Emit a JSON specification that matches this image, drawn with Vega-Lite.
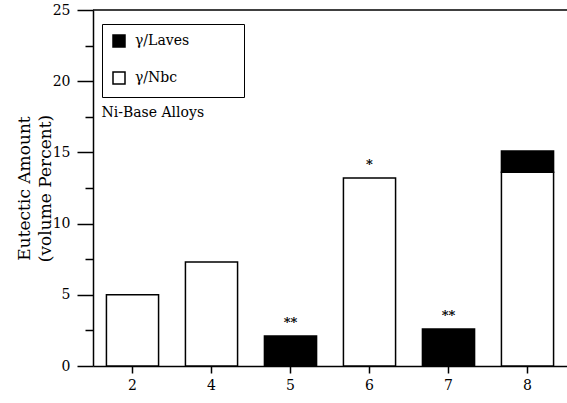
{
  "$schema": "https://vega.github.io/schema/vega-lite/v6.json",
  "width": 474,
  "height": 356,
  "autosize": {"type": "none"},
  "padding": {"left": 93, "top": 10, "right": 0, "bottom": 37},
  "background": "white",
  "config": {
    "view": {"stroke": null},
    "font": "DejaVu Serif",
    "legend": {"strokeColor": "black"},
    "axis": {
      "labelFont": "DejaVu Serif",
      "titleFont": "DejaVu Serif",
      "labelColor": "black",
      "titleColor": "black",
      "domainColor": "black",
      "tickColor": "black",
      "domainWidth": 1.5,
      "tickWidth": 1.5,
      "grid": false,
      "labelFontSize": 14,
      "titleFontWeight": "normal"
    }
  },
  "datasets": {
    "bars": [
      {"alloy": "2", "phase": "γ/Nbc", "amount": 5.0},
      {"alloy": "4", "phase": "γ/Nbc", "amount": 7.3},
      {"alloy": "5", "phase": "γ/Laves", "amount": 2.1},
      {"alloy": "6", "phase": "γ/Nbc", "amount": 13.2},
      {"alloy": "7", "phase": "γ/Laves", "amount": 2.6},
      {"alloy": "8", "phase": "γ/Nbc", "amount": 13.6},
      {"alloy": "8", "phase": "γ/Laves", "amount": 1.5}
    ],
    "notes": [
      {"alloy": "5", "total": 2.1, "note": "**"},
      {"alloy": "6", "total": 13.2, "note": "*"},
      {"alloy": "7", "total": 2.6, "note": "**"}
    ],
    "caption": [{"label": "Ni-Base Alloys"}]
  },
  "layer": [
    {
      "data": {"name": "bars"},
      "mark": {"type": "bar", "stroke": "black", "strokeWidth": 1.5},
      "encoding": {
        "x": {
          "field": "alloy",
          "type": "nominal",
          "sort": ["2", "4", "5", "6", "7", "8"],
          "scale": {"paddingInner": 0.34, "paddingOuter": 0.17},
          "axis": {"title": null, "labelAngle": 0, "tickSize": 7, "labelPadding": 5, "labelFontSize": 14}
        },
        "y": {
          "field": "amount",
          "type": "quantitative",
          "stack": "zero",
          "scale": {"domain": [0, 25], "nice": false},
          "axis": {
            "values": [0, 5, 10, 15, 20, 25],
            "tickSize": 16,
            "labelPadding": 7,
            "title": ["Eutectic Amount", "(volume Percent)"],
            "titleFontSize": 17,
            "titleLineHeight": 21,
            "titlePadding": -2
          }
        },
        "color": {
          "field": "phase",
          "type": "nominal",
          "scale": {"domain": ["γ/Laves", "γ/Nbc"], "range": ["black", "white"]},
          "legend": {
            "title": null,
            "orient": "none",
            "legendX": 9,
            "legendY": 14,
            "padding": 10,
            "symbolType": "square",
            "symbolSize": 144,
            "symbolStrokeColor": "black",
            "symbolStrokeWidth": 1.5,
            "symbolOpacity": 1,
            "labelFont": "DejaVu Serif",
            "labelFontSize": 14,
            "labelColor": "black",
            "labelOffset": 9,
            "rowPadding": 19,
            "labelExpr": "datum.label + '\u00a0\u00a0\u00a0\u00a0\u00a0\u00a0\u00a0\u00a0\u00a0\u00a0\u200b'"
          }
        },
        "order": {"field": "phase", "sort": "descending"}
      }
    },
    {
      "data": {"values": [{}]},
      "mark": {"type": "rule", "color": "black", "strokeWidth": 1.5},
      "encoding": {
        "y": {
          "datum": 25,
          "type": "quantitative",
          "axis": {
            "orient": "left",
            "values": [2.5, 7.5, 12.5, 17.5, 22.5],
            "labels": false,
            "domain": false,
            "tickSize": 8,
            "title": null
          }
        }
      }
    },
    {
      "data": {"name": "notes"},
      "mark": {"type": "text", "fontSize": 13, "fontWeight": "bold", "dy": -9, "baseline": "alphabetic", "color": "black"},
      "encoding": {
        "x": {"field": "alloy", "type": "nominal", "sort": ["2", "4", "5", "6", "7", "8"]},
        "y": {"field": "total", "type": "quantitative", "axis": null},
        "text": {"field": "note"}
      }
    },
    {
      "data": {"name": "caption"},
      "mark": {"type": "text", "fontSize": 14, "align": "left", "baseline": "middle", "dx": -31, "color": "black"},
      "encoding": {
        "x": {"datum": "2", "type": "nominal"},
        "y": {"datum": 17.8, "type": "quantitative", "axis": null},
        "text": {"field": "label"}
      }
    }
  ],
  "resolve": {"axis": {"y": "independent"}}
}
